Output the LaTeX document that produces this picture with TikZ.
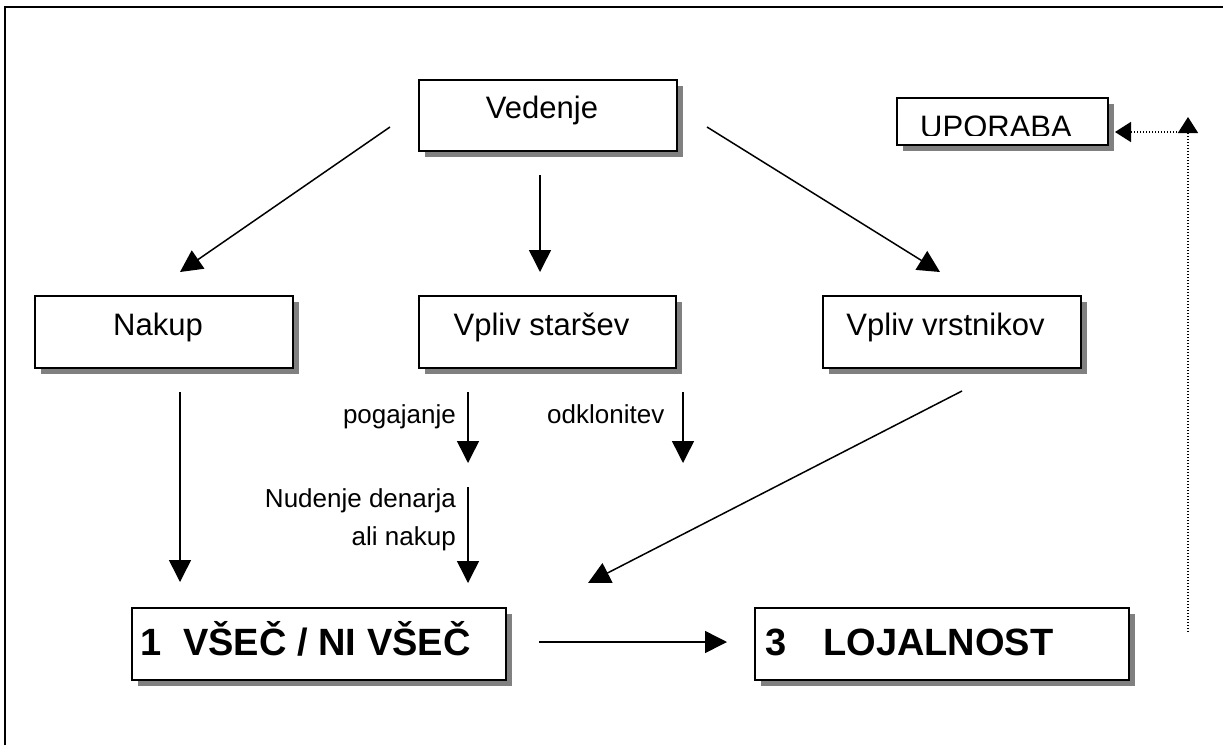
\documentclass[tikz,border=0pt]{standalone}
\usepackage{fontspec}
\setmainfont{Liberation Sans}
\usetikzlibrary{arrows.meta,shadows}
\definecolor{shadowgray}{RGB}{128,128,128}
\begin{document}
\begin{tikzpicture}[x=1pt,y=-1pt,
  box/.style={draw=black, line width=2pt, fill=white, inner sep=0pt,
    general shadow={fill=shadowgray, shadow xshift=6pt, shadow yshift=-6pt}},
  txt/.style={inner sep=0pt, anchor=base, font=\fontsize{31}{37}\selectfont},
  lbl/.style={inner sep=0pt, font=\fontsize{26}{31}\selectfont},
  big/.style={inner sep=0pt, anchor=base west, font=\fontsize{38}{45}\selectfont\bfseries},
  arr/.style={line width=1.5pt, -{Triangle[length=22pt,width=22pt]}},
  dotarr/.style={line width=1.5pt, dash pattern=on 1.5pt off 1.5pt, -{Triangle[length=16pt,width=20pt]}}
]
\useasboundingbox (0,0) rectangle (1223,745);
% outer frame (top and left edges visible)
\draw[line width=2pt] (5,745) -- (5,7) -- (1223,7);

% boxes
\node[box, minimum width=258pt, minimum height=71pt] (ved) at (548,115.5) {};
\node[box, minimum width=258pt, minimum height=72pt] (nak) at (164,332) {};
\node[box, minimum width=257pt, minimum height=72pt] (vst) at (547.5,332) {};
\node[box, minimum width=258pt, minimum height=72pt] (vvr) at (951.5,332) {};
\node[box, minimum width=211pt, minimum height=47pt] (upo) at (1002.5,121.5) {};
\node[box, minimum width=374pt, minimum height=72pt] (vsec) at (319,644) {};
\node[box, minimum width=374pt, minimum height=72pt] (loj) at (942,644) {};

% box texts
\node[txt] (vedT) at (542,118) {Vedenje};
\node[txt] (nakT) at (158,335) {Nakup};
\node[txt] (vstT) at (541.5,335) {Vpliv staršev};
\node[txt] (vvrT) at (945.5,335) {Vpliv vrstnikov};
\begin{scope}
  \clip (899,100) rectangle (1106,135.5);
  \node[txt] (upoT) at (996,137.5) {UPORABA};
\end{scope}
\node[big] (vsecT) at (140,655) {1\hspace{22pt}VŠEČ / NI VŠEČ};
\node[big] (lojT) at (765,655) {3\hspace{37pt}LOJALNOST};

% labels
\node[lbl, anchor=base east] (pog) at (456,423) {pogajanje};
\node[lbl, anchor=base west] (odk) at (547,423) {odklonitev};
\node[lbl, anchor=base east] (nud1) at (456,507) {Nudenje denarja};
\node[lbl, anchor=base east] (nud2) at (456,545) {ali nakup};

% arrow end points
\coordinate (a1s) at (390,127);  \coordinate (a1e) at (180,272);
\coordinate (a2s) at (540,175);  \coordinate (a2e) at (540,272);
\coordinate (a3s) at (707,127);  \coordinate (a3e) at (940,272);
\coordinate (a4s) at (180,392);  \coordinate (a4e) at (180,582);
\coordinate (a5s) at (468,392);  \coordinate (a5e) at (468,463);
\coordinate (a6s) at (683,392);  \coordinate (a6e) at (683,463);
\coordinate (a7s) at (468,487);  \coordinate (a7e) at (468,583);
\coordinate (a8s) at (962,391);  \coordinate (a8e) at (588,583);
\coordinate (a9s) at (539,642);  \coordinate (a9e) at (727,642);
\coordinate (d1s) at (1188,632); \coordinate (d1e) at (1188,117);
\coordinate (d2s) at (1180,132); \coordinate (d2e) at (1115,132);

\draw[arr] (a1s) -- (a1e);
\draw[arr] (a2s) -- (a2e);
\draw[arr] (a3s) -- (a3e);
\draw[arr] (a4s) -- (a4e);
\draw[arr] (a5s) -- (a5e);
\draw[arr] (a6s) -- (a6e);
\draw[arr] (a7s) -- (a7e);
\draw[arr] (a8s) -- (a8e);
\draw[arr] (a9s) -- (a9e);
\draw[dotarr] (d1s) -- (d1e);
\draw[dotarr] (d2s) -- (d2e);
\end{tikzpicture}
\end{document}
